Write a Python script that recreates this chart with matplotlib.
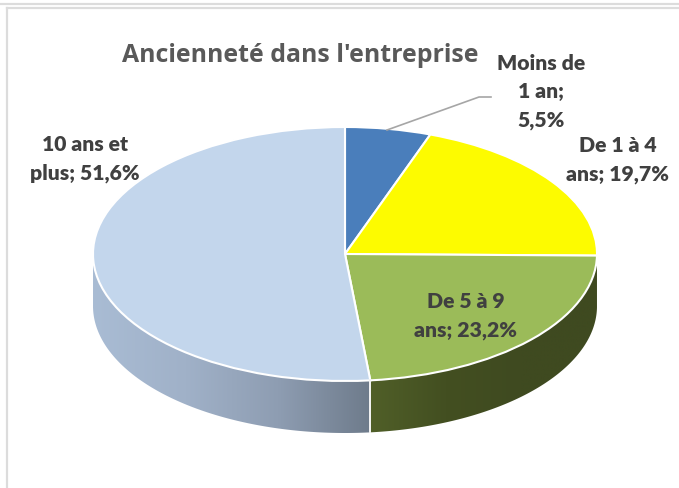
import numpy as np
import matplotlib
matplotlib.use('Agg')
import matplotlib.pyplot as plt
from matplotlib.colors import LinearSegmentedColormap
from matplotlib.lines import Line2D
from matplotlib.patches import Polygon

title = "Ancienneté dans l'entreprise"
categories = ['Moins de 1 an', 'De 1 à 4 ans', 'De 5 à 9 ans', '10 ans et plus']
values = [5.5, 19.7, 23.2, 51.6]
labels = ['Moins de\n1 an;\n5,5%', 'De 1 à 4\nans; 19,7%', 'De 5 à 9\nans; 23,2%', '10 ans et\nplus; 51,6%']
colors = ['#4a7ebb', '#fdfb00', '#9bbb59', '#c3d6ec']
wall_colors = {2: ['#505f28', '#434f21', '#3f4a20', '#3f4a20'],
               3: ['#a9bcd4', '#a0b1c8', '#8e9db2', '#6e7b8b']}

W, H = 679, 488


def px(x, y):
    return x / W, 1 - y / H


fig = plt.figure(figsize=(W / 100, H / 100), dpi=100)

# grey frame of the screenshot
frame = [((0, W), (3.5, 3.5)), ((7, W), (8, 8)), ((7, 7), (8, H))]
for xs, ys in frame:
    a, b = px(xs[0], ys[0]), px(xs[1], ys[1])
    fig.add_artist(Line2D([a[0], b[0]], [a[1], b[1]], color='#dcdcdc', lw=1.6))

# pie top squashed by giving the axes its own width and height,
# the axes goes down to the foot of the wall so the gradient is not cut
cx, cy, rx, ry, depth = 345, 254, 252, 127, 52
ax = fig.add_axes([(cx - rx) / W, (H - cy - ry - depth) / H, 2 * rx / W, (2 * ry + depth) / H])

# side wall first, under the top, with a gradient along x
edges = np.cumsum([0] + values) / 100 * 2 * np.pi
d = depth / ry
for i in wall_colors:
    a0 = max(edges[i], np.pi / 2)
    a1 = min(edges[i + 1], 3 * np.pi / 2)
    t = np.linspace(a0, a1, 200)
    top = np.column_stack([np.sin(t), np.cos(t)])
    bottom = np.column_stack([np.sin(t), np.cos(t) - d])[::-1]
    wall = Polygon(np.vstack([top, bottom]), transform=ax.transData, facecolor='none', edgecolor='none')
    ax.add_patch(wall)
    x0, x1 = top[:, 0].min(), top[:, 0].max()
    cmap = LinearSegmentedColormap.from_list('wall', wall_colors[i])
    im = ax.imshow(np.linspace(0, 1, 256).reshape(1, -1), cmap=cmap, aspect='auto',
                   extent=(x0, x1, -1 - d, 1), interpolation='bilinear')
    im.set_clip_path(wall)

# white divider between the two visible wall parts
s = edges[3]
ax.plot([np.sin(s)] * 2, [np.cos(s), np.cos(s) - d], color='#f4f4f4', lw=1.4, clip_on=False)

wedges, _ = ax.pie(values, colors=colors, startangle=90, counterclock=False, radius=1,
                   wedgeprops={'edgecolor': 'white', 'linewidth': 1.5})
for w in wedges:
    w.set_clip_on(False)
ax.set_aspect('auto')
ax.set_xlim(-1, 1)
ax.set_ylim(-1 - d, 1)

# leader line of the first label
pts = [px(387, 130), px(479, 97), px(491, 97)]
fig.add_artist(Line2D([p[0] for p in pts], [p[1] for p in pts], color='#a6a6a6', lw=1.2))

tx, ty = px(300, 56)
fig.text(tx, ty, title, ha='center', va='center', family='Open Sans', fontweight='bold',
         fontsize=17.9, color='#595959')

label_pos = [(541, 92), (618, 160), (466, 316), (85, 159)]
for text, pos in zip(labels, label_pos):
    tx, ty = px(*pos)
    fig.text(tx, ty, text, ha='center', va='center', family='Lato', fontweight='heavy',
             fontsize=15.2, color='#404040', linespacing=1.6)

fig.savefig('out.png', dpi=100)
